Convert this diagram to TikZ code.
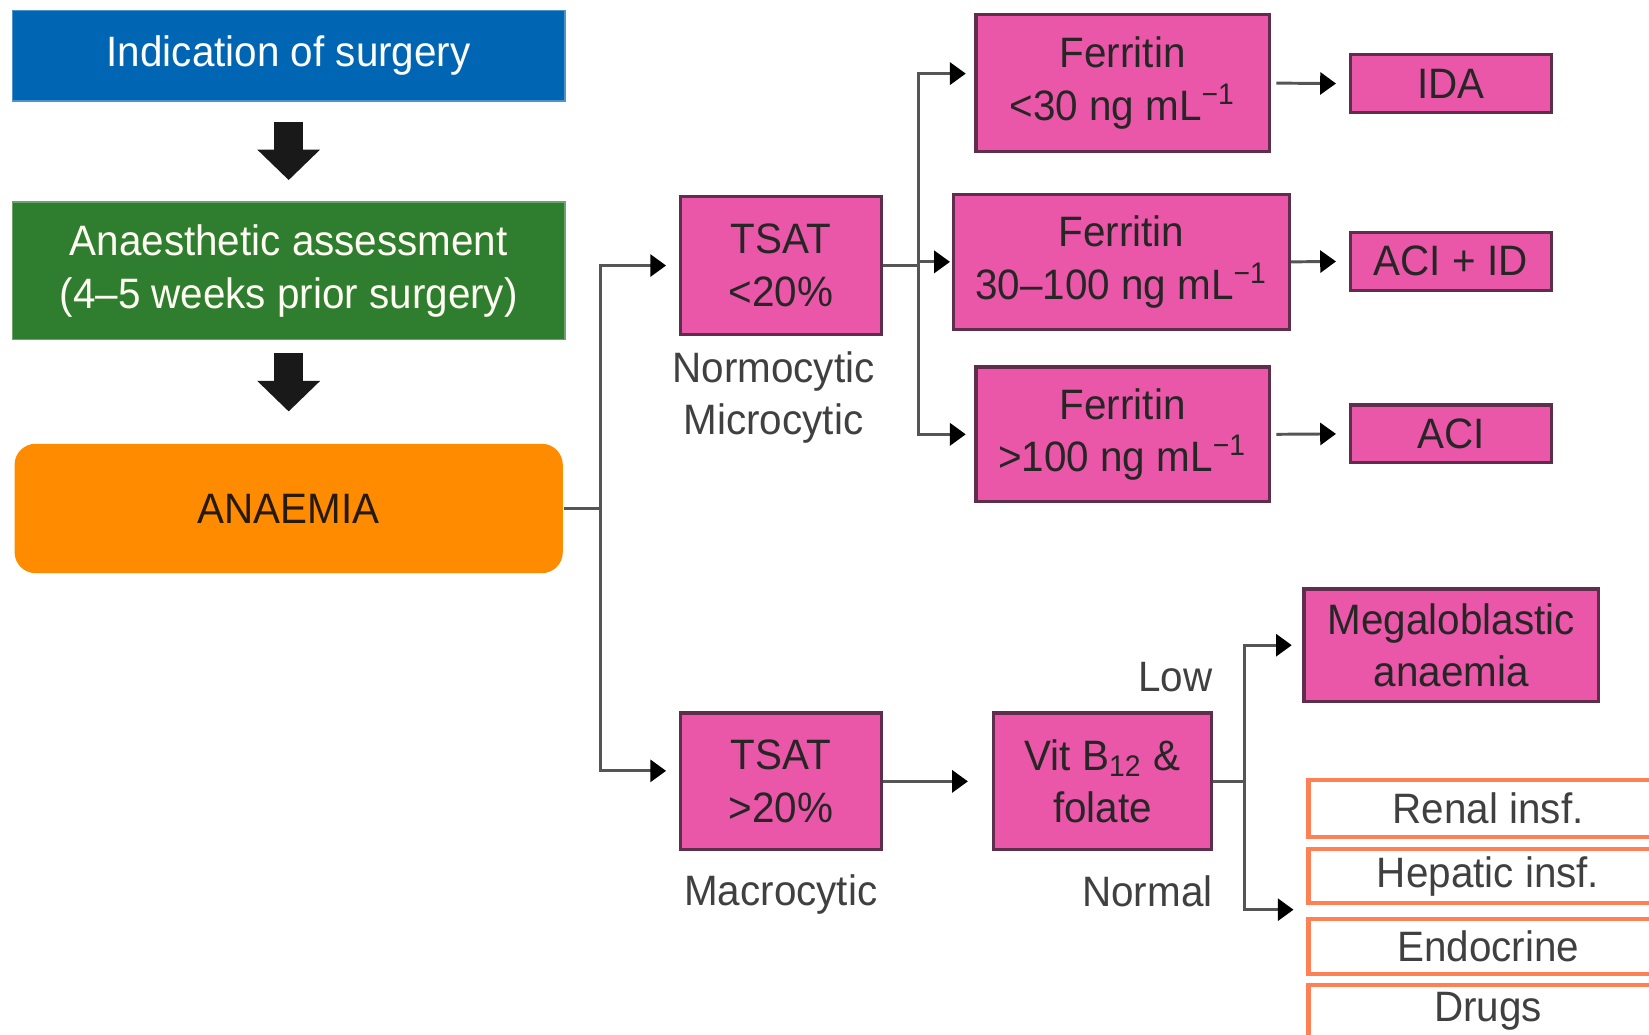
\documentclass[tikz,border=0pt]{standalone}
\usepackage{fontspec}
\setmainfont{Liberation Sans}[FakeStretch=0.95]
\usepackage{tikz}
\usetikzlibrary{arrows.meta}
\definecolor{surgblue}{HTML}{0066B3}
\definecolor{assessgreen}{HTML}{2F7D2E}
\definecolor{anaemiaorange}{HTML}{FF8C00}
\definecolor{testpink}{HTML}{EA56A8}
\definecolor{pinkborder}{HTML}{5E2E4C}
\definecolor{causeorange}{HTML}{FF8055}
\definecolor{linegray}{HTML}{555555}
\tikzstyle{stage} = [rectangle, inner sep=0pt, align=center, font=\fontsize{11.5}{14.2}\selectfont]
\tikzstyle{pinkbox} = [stage, fill=testpink, draw=pinkborder, line width=0.9pt, text=black!85]
\tikzstyle{cause} = [stage, minimum width=3.4cm, text=black!75]
\tikzstyle{causeframe} = [draw=causeorange, line width=1.1pt]
\tikzstyle{note} = [stage, text=black!75]
\tikzstyle{conn} = [linegray, line width=0.8pt, shorten >=0.12cm, -{Triangle[length=0.15cm,width=0.21cm,color=black]}]
\tikzstyle{bigarrow} = [black!90, line width=0.28cm, -{Triangle[length=0.29cm,width=0.58cm]}]

\begin{document}
\begin{tikzpicture}[x=0.01cm,y=-0.01cm]
			\useasboundingbox (0,0) rectangle (1568,984);
			\clip (0,0) rectangle (1568,984);
			\node[stage, fill=surgblue, draw=surgblue!70!white, text=white, minimum width=5.25cm, minimum height=0.86cm] (surgery) at (274.5,53) {Indication of surgery};
			\node[stage, fill=assessgreen, draw=assessgreen!70!white, text=white!95!yellow, minimum width=5.25cm, minimum height=1.31cm] (assess) at (274.5,257.5) {Anaesthetic assessment\\(4–5 weeks prior surgery)};
			\node[stage, fill=anaemiaorange, rounded corners=0.2cm, minimum width=5.21cm, minimum height=1.23cm, text=black!80!brown] (anaemia) at (274.5,483.5) {ANAEMIA};
			\draw[bigarrow, shorten <=0.19cm, shorten >=0.2cm] (surgery) -- (assess);
			\draw[bigarrow, shorten <=0.12cm, shorten >=0.3cm] (assess) -- (anaemia);
			\node[pinkbox, minimum width=1.91cm, minimum height=1.31cm] (tsatlo) at (742.5,252.5) {TSAT\\<20\%};
			\node[pinkbox, minimum width=1.91cm, minimum height=1.30cm] (tsathi) at (742.5,743) {TSAT\\>20\%};
			\node[note, anchor=north] (normo) at ([xshift=-0.07cm,yshift=-0.14cm]tsatlo.south) {Normocytic\\Microcytic};
			\node[note, anchor=north] (macro) at ([yshift=-0.21cm]tsathi.south) {Macrocytic};
			\node[pinkbox, minimum width=2.79cm, minimum height=1.30cm] (ferrlo) at (1067.5,79) {Ferritin\\<30 ng mL\textsuperscript{−1}};
			\node[pinkbox, minimum width=3.19cm, minimum height=1.28cm] (ferrmid) at (1066.5,249) {Ferritin\\30–100 ng mL\textsuperscript{−1}};
			\node[pinkbox, minimum width=2.79cm, minimum height=1.28cm] (ferrhi) at (1067.5,413) {Ferritin\\>100 ng mL\textsuperscript{−1}};
			\node[pinkbox, minimum width=1.91cm, minimum height=0.55cm] (ida) at (1379.5,79.5) {IDA};
			\node[pinkbox, minimum width=1.91cm, minimum height=0.55cm] (aciid) at (1379.5,248.5) {ACI + ID};
			\node[pinkbox, minimum width=1.91cm, minimum height=0.55cm] (aci) at (1379.5,412.5) {ACI};
			\node[pinkbox, minimum width=2.07cm, minimum height=1.30cm] (vit) at (1048.5,743) {Vit B\textsubscript{12} \&\\folate};
			\node[note, anchor=south east] (low) at ([yshift=0.18cm]vit.north east) {Low};
			\node[note, anchor=north east] (normal) at ([yshift=-0.22cm]vit.south east) {Normal};
			\node[pinkbox, minimum width=2.80cm, minimum height=1.07cm] (mega) at (1380,613.5) {Megaloblastic\\anaemia};
			\node[cause, minimum height=0.53cm] (renal) at (1415,768.5) {Renal insf.};
			\node[cause, minimum height=0.50cm] (hepatic) at (1415,833) {Hepatic insf.};
			\node[cause, minimum height=0.50cm] (endocrine) at (1415,900) {Endocrine};
			\node[cause, minimum height=0.50cm] (drugs) at (1415,962) {Drugs};
			\foreach \c in {renal,hepatic,endocrine}
				\draw[causeframe] (\c.north west) rectangle ([xshift=3cm]\c.south east);
			\draw[causeframe] (drugs.north west) rectangle ([xshift=3cm,yshift=-1cm]drugs.south east);
			\coordinate (split1) at (571,483.5);
			\coordinate (split2) at (873,252.5);
			\coordinate (split3) at (1183,743);
			\coordinate (causes) at (1240,865);
			\draw[conn] (anaemia.east) -- (split1) |- (tsatlo.west);
			\draw[conn] (split1) |- ([yshift=0.1cm]tsathi.west);
			\draw[conn, shorten >=0.02cm] (tsatlo.east) -- (split2) |- (ferrmid.west);
			\draw[conn, shorten >=0.08cm] (split2) |- ([yshift=0.09cm]ferrlo.west);
			\draw[conn, shorten >=0.08cm] (split2) |- (ferrhi.west);
			\draw[conn, shorten <=0.05cm] (ferrlo.east) -- (ida.west);
			\draw[conn] (ferrmid.east) -- (aciid.west);
			\draw[conn, shorten <=0.05cm] (ferrhi.east) -- (aci.west);
			\draw[conn, shorten >=0.23cm] (tsathi.east) -- (vit.west);
			\draw[conn, shorten >=0.1cm] (vit.east) -- (split3) |- (mega.west);
			\draw[conn, shorten >=0.1cm] (split3) |- (causes);
		\end{tikzpicture}
\end{document}
